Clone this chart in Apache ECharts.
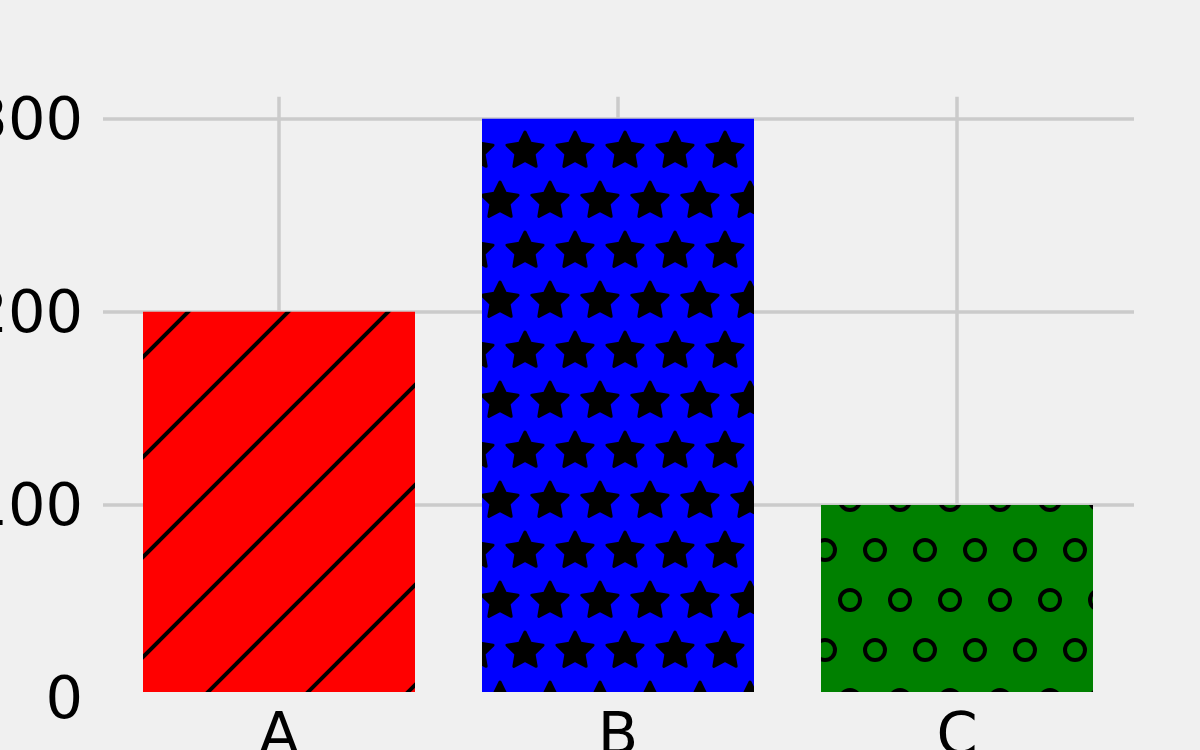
<!DOCTYPE html>
<html>
<head>
<meta charset="utf-8">
<script src="https://cdn.jsdelivr.net/npm/echarts@6/dist/echarts.min.js"></script>
<style>
html,body{margin:0;padding:0;background:#f0f0f0;}
#chart{width:1200px;height:750px;}
</style>
</head>
<body>
<div id="chart"></div>
<script>
// ---- data ----
var categories = ['A', 'B', 'C'];
var values = [200, 300, 100];
var barColors = ['#ff0000', '#0000ff', '#008000'];
var hatches = ['/', '*', 'o'];
var yTicks = [0, 100, 200, 300];

// ---- hatch patterns ----
function makeTile(w, h, base, draw) {
  var c = document.createElement('canvas');
  c.width = w; c.height = h;
  var ctx = c.getContext('2d');
  ctx.fillStyle = base;
  ctx.fillRect(0, 0, w, h);
  draw(ctx);
  return c;
}
function starPath(ctx, cx, cy, R, r) {
  ctx.beginPath();
  for (var i = 0; i < 10; i++) {
    var rad = i % 2 === 0 ? R : r;
    var a = -Math.PI / 2 + i * Math.PI / 5;
    var x = cx + rad * Math.cos(a), y = cy + rad * Math.sin(a);
    if (i === 0) ctx.moveTo(x, y); else ctx.lineTo(x, y);
  }
  ctx.closePath();
}
function hatchPattern(kind, base) {
  var tile;
  if (kind === '/') {
    tile = makeTile(100, 100, base, function (ctx) {
      ctx.strokeStyle = '#000'; ctx.lineWidth = 4;
      [0, 100, 200].forEach(function (k) {
        ctx.beginPath();
        ctx.moveTo(-20, k + 20);
        ctx.lineTo(k + 20, -20);
        ctx.stroke();
      });
    });
  } else if (kind === '*') {
    tile = makeTile(50, 100, base, function (ctx) {
      ctx.fillStyle = '#000'; ctx.strokeStyle = '#000';
      ctx.lineWidth = 3; ctx.lineJoin = 'round';
      [[25, 51], [0, 1], [50, 1], [0, 101], [50, 101]].forEach(function (p) {
        starPath(ctx, p[0], p[1], 19, 9.5);
        ctx.fill(); ctx.stroke();
      });
    });
  } else {
    tile = makeTile(50, 100, base, function (ctx) {
      ctx.strokeStyle = '#000'; ctx.lineWidth = 4;
      [[25, 50], [0, 0], [50, 0], [0, 100], [50, 100]].forEach(function (p) {
        ctx.beginPath();
        ctx.arc(p[0], p[1], 10, 0, Math.PI * 2);
        ctx.stroke();
      });
    });
  }
  return { image: tile, repeat: 'repeat' };
}

var font = 'DejaVu Sans';
var gridColor = '#cbcbcb';

var barData = values.map(function (v, i) {
  return { value: v, itemStyle: { color: hatchPattern(hatches[i], barColors[i]) } };
});

var chart = echarts.init(document.getElementById('chart'), null, { renderer: 'canvas' });
chart.setOption({
  backgroundColor: '#f0f0f0',
  animation: false,
  grid: [
    { left: 103, right: 66, top: 118.7, bottom: 52.3, outerBoundsMode: 'none', containLabel: false },
    { left: 279, width: 678, top: 96.7, bottom: 58, outerBoundsMode: 'none', containLabel: false },
    { left: 109.5, width: 1017, top: 118.7, bottom: 58, outerBoundsMode: 'none', containLabel: false }
  ],
  xAxis: [
    { gridIndex: 0, type: 'value', show: false },
    { gridIndex: 1, type: 'value', min: 0, max: categories.length - 1, interval: 1,
      axisLine: { show: false }, axisTick: { show: false }, axisLabel: { show: false },
      splitLine: { show: true, lineStyle: { color: gridColor, width: 3.5 } } },
    { gridIndex: 2, type: 'category', data: categories,
      axisLine: { show: false }, axisTick: { show: false },
      axisLabel: { color: '#000', fontSize: 59, fontFamily: font, margin: 17 },
      splitLine: { show: false } }
  ],
  yAxis: [
    { gridIndex: 0, type: 'value', min: yTicks[0], max: yTicks[yTicks.length - 1], interval: 100,
      axisLine: { show: false }, axisTick: { show: false },
      axisLabel: { color: '#000', fontSize: 59, fontFamily: font, margin: 20,
                   verticalAlign: 'top', lineHeight: 10 },
      splitLine: { show: true, lineStyle: { color: ['rgba(0,0,0,0)', gridColor, gridColor, gridColor], width: 3.5 } } },
    { gridIndex: 1, type: 'value', show: false, splitLine: { show: false } },
    { gridIndex: 2, type: 'value', min: 3.1, max: 300, show: false, splitLine: { show: false } }
  ],
  series: [{
    type: 'bar',
    xAxisIndex: 2, yAxisIndex: 2,
    data: barData,
    barWidth: 272,
    clip: true,
    itemStyle: { borderWidth: 0 }
  }]
});
</script>
</body>
</html>
